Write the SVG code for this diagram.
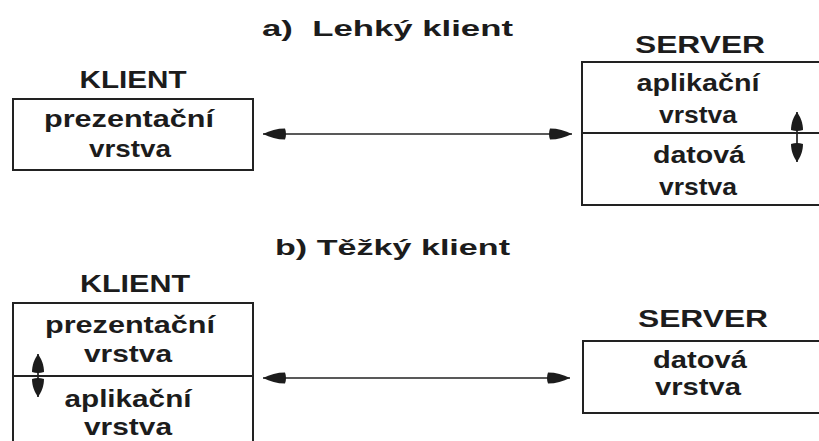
<svg xmlns="http://www.w3.org/2000/svg" width="819" height="441" viewBox="0 0 819 441">
  <style>
    text { font-family: "Liberation Sans", Arial, sans-serif; font-weight: bold; fill: #1c1c1c; }
    .lbl { font-size: 24px; text-anchor: middle; }
    .title { font-size: 22px; }
    .box { fill: none; stroke: #222; stroke-width: 2; }
    .div { stroke: #222; stroke-width: 1.8; }
    .link { stroke: #222; stroke-width: 1.7; fill: none; }
  </style>
  <defs>
    <!-- tapered filled head, tip at the line end -->
    <marker id="ah" viewBox="0 0 24 14" refX="24" refY="7" markerWidth="24" markerHeight="14" markerUnits="userSpaceOnUse" orient="auto-start-reverse">
      <path d="M2,1.5 Q0,7 2,12.5 C10,12.5 17,10.5 24,7 C17,3.5 10,1.5 2,1.5 Z" fill="#1c1c1c"/>
    </marker>
    <marker id="ahs" viewBox="0 0 20 14" refX="20" refY="7" markerWidth="20" markerHeight="14" markerUnits="userSpaceOnUse" orient="auto-start-reverse">
      <path d="M2,1 Q0,7 2,13 C9,13 15,10.5 20,7 C15,3.5 9,1 2,1 Z" fill="#1c1c1c"/>
    </marker>
  </defs>
  <rect width="819" height="441" fill="#fff"/>

  <!-- a) thin client -->
  <g id="title-a">
    <text class="title" x="262" y="36" textLength="251" lengthAdjust="spacingAndGlyphs" xml:space="preserve">a)  Lehký klient</text>
  </g>
  <g id="klient-a">
    <text class="lbl" x="133" y="88" textLength="107" lengthAdjust="spacingAndGlyphs">KLIENT</text>
    <rect class="box" x="13" y="99" width="240" height="71"/>
    <text class="lbl" x="129" y="127" textLength="170" lengthAdjust="spacingAndGlyphs">prezentační</text>
    <text class="lbl" x="130" y="157" textLength="82" lengthAdjust="spacingAndGlyphs">vrstva</text>
  </g>
  <g id="server-a">
    <text class="lbl" x="700" y="53" textLength="130" lengthAdjust="spacingAndGlyphs">SERVER</text>
    <rect class="box" x="582" y="62" width="260" height="143"/>
    <line class="div" x1="582" y1="133" x2="830" y2="133"/>
    <text class="lbl" x="698" y="91" textLength="123" lengthAdjust="spacingAndGlyphs">aplikační</text>
    <text class="lbl" x="698" y="123" textLength="78" lengthAdjust="spacingAndGlyphs">vrstva</text>
    <text class="lbl" x="699" y="163" textLength="92" lengthAdjust="spacingAndGlyphs">datová</text>
    <text class="lbl" x="698" y="195" textLength="78" lengthAdjust="spacingAndGlyphs">vrstva</text>
  </g>

  <!-- b) thick client -->
  <g id="title-b">
    <text class="title" x="275" y="255" textLength="235" lengthAdjust="spacingAndGlyphs">b) Těžký klient</text>
  </g>
  <g id="klient-b">
    <text class="lbl" x="135" y="292" textLength="110" lengthAdjust="spacingAndGlyphs">KLIENT</text>
    <rect class="box" x="13" y="303" width="240" height="160"/>
    <line class="div" x1="13" y1="376" x2="253" y2="376"/>
    <text class="lbl" x="130" y="333" textLength="170" lengthAdjust="spacingAndGlyphs">prezentační</text>
    <text class="lbl" x="128" y="362" textLength="88" lengthAdjust="spacingAndGlyphs">vrstva</text>
    <text class="lbl" x="128" y="407" textLength="127" lengthAdjust="spacingAndGlyphs">aplikační</text>
    <text class="lbl" x="128" y="435" textLength="88" lengthAdjust="spacingAndGlyphs">vrstva</text>
  </g>
  <g id="server-b">
    <text class="lbl" x="703" y="327" textLength="130" lengthAdjust="spacingAndGlyphs">SERVER</text>
    <rect class="box" x="583" y="341" width="260" height="72"/>
    <text class="lbl" x="700" y="368" textLength="94" lengthAdjust="spacingAndGlyphs">datová</text>
    <text class="lbl" x="698" y="395" textLength="86" lengthAdjust="spacingAndGlyphs">vrstva</text>
  </g>

  <g id="connectors">
    <line class="link" x1="263" y1="134" x2="572" y2="134" marker-start="url(#ah)" marker-end="url(#ah)"/>
    <line class="link" x1="797" y1="112" x2="797" y2="162" marker-start="url(#ahs)" marker-end="url(#ahs)"/>
    <line class="link" x1="263" y1="378" x2="570" y2="378" marker-start="url(#ah)" marker-end="url(#ah)"/>
    <line class="link" x1="38" y1="354" x2="38" y2="397" marker-start="url(#ahs)" marker-end="url(#ahs)"/>
  </g>
</svg>
